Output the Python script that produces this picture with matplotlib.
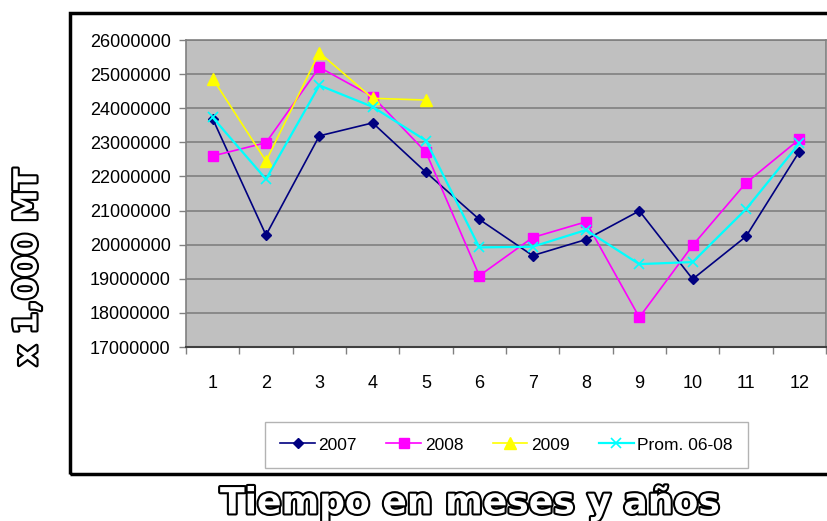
import matplotlib
matplotlib.use("Agg")
import matplotlib.pyplot as plt
import matplotlib.patheffects as pe
from matplotlib.patches import Rectangle
from matplotlib.ticker import MultipleLocator, FixedLocator

months = list(range(1, 13))
month_labels = [str(m) for m in months]
s2007 = [23690000, 20280000, 23190000, 23570000, 22120000, 20740000,
         19680000, 20150000, 20990000, 18990000, 20240000, 22730000]
s2008 = [22600000, 22990000, 25200000, 24340000, 22710000, 19090000,
         20210000, 20670000, 17870000, 19980000, 21810000, 23090000]
s2009 = [24870000, 22450000, 25630000, 24290000, 24240000]
prom = [23730000, 21920000, 24670000, 24040000, 23050000, 19920000,
        19940000, 20430000, 19430000, 19490000, 21040000, 22970000]
series_names = ["2007", "2008", "2009", "Prom. 06-08"]

plt.rcParams['font.family'] = ['Liberation Sans', 'DejaVu Sans']

W, H = 827, 521
fig = plt.figure(figsize=(W / 100, H / 100), dpi=100)
fig.patch.set_facecolor('white')

# outer chart border
fig.patches.append(Rectangle((70 / W, 1 - 474 / H), 800 / W, (474 - 13) / H,
                             transform=fig.transFigure, fill=False,
                             edgecolor='black', linewidth=2.5, clip_on=False))

ax = fig.add_axes([186 / W, 1 - 347 / H, (826 - 186) / W, (347 - 40) / H])
ax.set_facecolor('#C0C0C0')

l1, = ax.plot(months, s2007, color='#000080', marker='D', markersize=5, linewidth=1.2)
l2, = ax.plot(months, s2008, color='#FF00FF', marker='s', markersize=7, linewidth=1.2)
l3, = ax.plot(months[:len(s2009)], s2009, color='#FFFF00', marker='^', markersize=8, linewidth=1.2)
l4, = ax.plot(months, prom, color='#00FFFF', marker='x', markersize=7, markeredgewidth=1.2, linewidth=1.6)

ax.set_xlim(0.5, 12.5)
ax.set_ylim(17000000, 26000000)
ax.yaxis.set_major_locator(MultipleLocator(1000000))
ax.yaxis.set_major_formatter(matplotlib.ticker.FuncFormatter(lambda v, p: f"{int(round(v))}"))
ax.grid(axis='y', color='#808080', linewidth=1.2)
ax.set_axisbelow(True)

ax.set_xticks(months)
ax.set_xticklabels(month_labels)
ax.xaxis.set_minor_locator(FixedLocator([m + 0.5 for m in range(0, 13)]))
ax.tick_params(axis='x', which='major', length=0, pad=20, labelsize=13)
ax.tick_params(axis='x', which='minor', length=5, color='#808080', width=1)
ax.tick_params(axis='y', which='major', length=5, color='#808080', width=1, pad=6, labelsize=13)

for side in ['top', 'right', 'left']:
    ax.spines[side].set_color('#808080')
    ax.spines[side].set_linewidth(1.2)
ax.spines['bottom'].set_color('#404040')
ax.spines['bottom'].set_linewidth(1.5)

leg = fig.legend([l1, l2, l3, l4], series_names, ncol=4, loc='center',
                 bbox_to_anchor=((263 + 750) / 2 / W, 1 - 445 / H),
                 frameon=True, fancybox=False, fontsize=12.5,
                 handlelength=2.0, handletextpad=0.2, columnspacing=1.7,
                 borderpad=0.9)
leg.get_frame().set_edgecolor('#A0A0A0')
leg.get_frame().set_linewidth(1)

outline = [pe.Stroke(linewidth=3, foreground='black'), pe.Normal()]
fig.text(470 / W, 1 - 503 / H, "Tiempo en meses y años", ha='center', va='center',
         fontsize=26, fontweight='bold', color='white', family='DejaVu Sans',
         path_effects=outline)
fig.text(28 / W, 1 - 267 / H, "x 1,000 MT", ha='center', va='center', rotation=90,
         fontsize=23, fontweight='bold', color='white', family='DejaVu Sans',
         path_effects=outline)

fig.savefig('out.png', dpi=100)
